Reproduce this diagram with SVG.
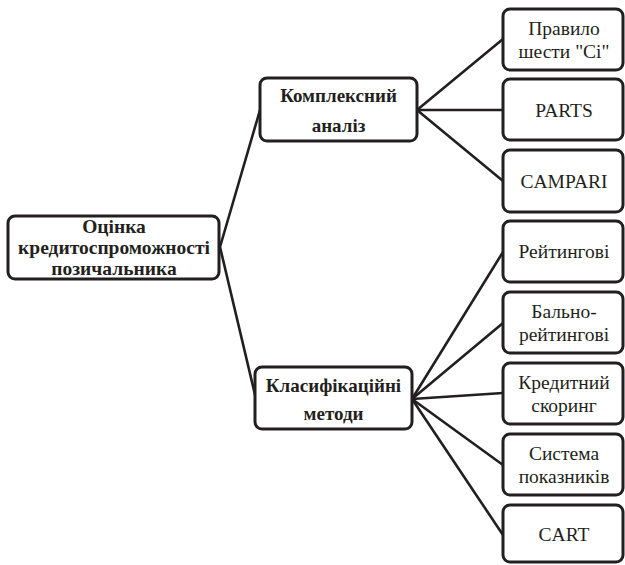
<svg xmlns="http://www.w3.org/2000/svg" width="625" height="565" viewBox="0 0 625 565">
<style>
.box{fill:#fff;stroke:#231f20;stroke-width:3}
.con line{stroke:#231f20;stroke-width:2.6;stroke-linecap:round}
text{font-family:'Liberation Serif','Times New Roman',serif;fill:#231f20;text-anchor:middle}
.b{font-weight:bold;font-size:19px}
.rt{font-weight:bold;font-size:19.5px}
.r{font-size:19.5px}
</style>
<rect width="625" height="565" fill="#fff"/>
<g class="con" id="connectors">
<line x1="220" y1="247" x2="260" y2="110"/>
<line x1="220" y1="247" x2="256" y2="399"/>
<line x1="417" y1="110" x2="503" y2="39"/>
<line x1="417" y1="110" x2="503" y2="110"/>
<line x1="417" y1="110" x2="503" y2="181"/>
<line x1="412" y1="399" x2="503" y2="252"/>
<line x1="412" y1="399" x2="503" y2="323"/>
<line x1="412" y1="399" x2="503" y2="393"/>
<line x1="412" y1="399" x2="503" y2="465"/>
<line x1="412" y1="399" x2="503" y2="535"/>
</g>
<g id="root">
<rect class="box" x="8" y="216" width="211" height="63" rx="7"/>
<text class="rt" x="114" y="233">Оцінка</text>
<text class="rt" x="114" y="254">кредитоспроможності</text>
<text class="rt" x="114" y="275">позичальника</text>
</g>
<g id="complex">
<rect class="box" x="260" y="78" width="157" height="63" rx="7"/>
<text class="b" x="338.5" y="102">Комплексний</text>
<text class="b" x="338.5" y="132">аналіз</text>
</g>
<g id="classif">
<rect class="box" x="255" y="367" width="157" height="62" rx="7"/>
<text class="b" x="333.5" y="392">Класифікаційні</text>
<text class="b" x="333.5" y="420">методи</text>
</g>
<g id="leaf1">
<rect class="box" x="503" y="9" width="120" height="61" rx="7"/>
<text class="r" x="564" y="35">Правило</text>
<text class="r" x="564" y="58">шести "Ci"</text>
</g>
<g id="leaf2">
<rect class="box" x="503" y="79" width="120" height="61" rx="7"/>
<text class="r" x="564" y="117">PARTS</text>
</g>
<g id="leaf3">
<rect class="box" x="503" y="150" width="120" height="62" rx="7"/>
<text class="r" x="564" y="188">CAMPARI</text>
</g>
<g id="leaf4">
<rect class="box" x="503" y="221" width="120" height="61" rx="7"/>
<text class="r" x="564" y="258">Рейтингові</text>
</g>
<g id="leaf5">
<rect class="box" x="503" y="292" width="120" height="61" rx="7"/>
<text class="r" x="564" y="318">Бально-</text>
<text class="r" x="564" y="341">рейтингові</text>
</g>
<g id="leaf6">
<rect class="box" x="503" y="363" width="120" height="61" rx="7"/>
<text class="r" x="564" y="389">Кредитний</text>
<text class="r" x="564" y="412">скоринг</text>
</g>
<g id="leaf7">
<rect class="box" x="503" y="434" width="120" height="61" rx="7"/>
<text class="r" x="564" y="460">Система</text>
<text class="r" x="564" y="483">показників</text>
</g>
<g id="leaf8">
<rect class="box" x="503" y="505" width="120" height="57" rx="7"/>
<text class="r" x="564" y="541">CART</text>
</g>
</svg>
